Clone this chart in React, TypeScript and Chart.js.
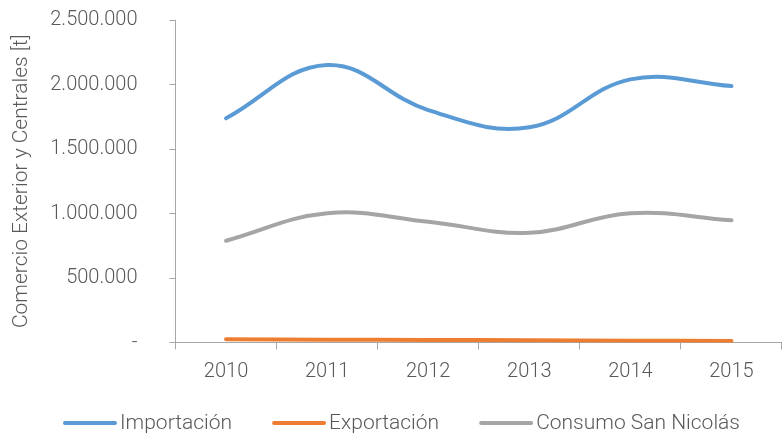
import React, { useEffect, useRef } from "react";
import { Chart, registerables } from "chart.js";

Chart.register(...registerables);

const years = ["2010", "2011", "2012", "2013", "2014", "2015"];
const importacion = [1738000, 2151000, 1802000, 1668000, 2040000, 1988000];
const exportacion = [25000, 22000, 20000, 17000, 14000, 12000];
const consumo = [789000, 1002000, 936000, 851000, 1002000, 947000];
const seriesNames = ["Importación", "Exportación", "Consumo San Nicolás"];
const seriesColors = ["#5B9BD5", "#ED7D31", "#A5A5A5"];

const TEXT = "#595959";
const AXIS = "#a6a6a6";
const FONT = "Roboto";
const FS = 20;
const LEGEND_FS = 21;

function fmt(v: number): string {
  if (v === 0) return "-";
  return String(Math.round(v)).replace(/\B(?=(\d{3})+(?!\d))/g, ".");
}

const legendPlugin = {
  id: "customLegend",
  afterDraw(chart: any) {
    const ctx = chart.ctx;
    ctx.save();
    ctx.font = `300 ${LEGEND_FS}px ${FONT}`;
    ctx.textBaseline = "middle";
    const lineW = 54;
    const gap = 3;
    const spacing = 40;
    const items = chart.data.datasets.map((d: any) => ({
      label: d.label,
      color: d.borderColor,
      w: ctx.measureText(d.label).width,
    }));
    const total =
      items.reduce((s: number, it: any) => s + lineW + gap + it.w, 0) + spacing * (items.length - 1);
    let x = 401.5 - total / 2;
    const y = 423;
    for (const it of items) {
      ctx.strokeStyle = it.color;
      ctx.lineWidth = 4;
      ctx.lineCap = "round";
      ctx.beginPath();
      ctx.moveTo(x + 2, y);
      ctx.lineTo(x + lineW - 2, y);
      ctx.stroke();
      ctx.fillStyle = TEXT;
      ctx.fillText(it.label, x + lineW + gap, y + 1);
      x += lineW + gap + it.w + spacing;
    }
    ctx.restore();
  },
};

export default function App() {
  const ref = useRef<HTMLCanvasElement | null>(null);
  useEffect(() => {
    if (!ref.current) return;
    const values = [importacion, exportacion, consumo];
    const chart = new Chart(ref.current, {
      type: "line",
      data: {
        labels: years,
        datasets: values.map((data, i) => ({
          label: seriesNames[i],
          data,
          borderColor: seriesColors[i],
          backgroundColor: seriesColors[i],
          borderWidth: 4,
          pointRadius: 0,
          tension: 0.4,
          borderCapStyle: "round" as const,
        })),
      },
      options: {
        animation: false,
        responsive: false,
        maintainAspectRatio: false,
        layout: { autoPadding: false, padding: { top: 20, right: -10, left: 0, bottom: 40.5 } },
        plugins: {
          tooltip: { enabled: false },
          legend: { display: false },
        },
        scales: {
          x: {
            offset: true,
            grid: {
              offset: true,
              drawOnChartArea: false,
              drawTicks: true,
              tickLength: 7,
              color: AXIS,
            },
            border: { color: AXIS, width: 1 },
            ticks: { color: TEXT, font: { family: FONT, size: FS, weight: 300 }, padding: 10 },
          },
          y: {
            min: 0,
            max: 2500000,
            afterFit: (s: any) => {
              s.width = 175.5;
              s.paddingTop = 0;
              s.paddingBottom = 0;
            },
            grid: { drawOnChartArea: false, tickLength: 6, color: AXIS },
            border: { color: AXIS, width: 1 },
            ticks: {
              stepSize: 500000,
              color: TEXT,
              padding: 32,
              font: { family: FONT, size: FS, weight: 300 },
              callback: (v: any) => fmt(Number(v)),
            },
            title: {
              display: true,
              text: "Comercio Exterior y Centrales [t]",
              color: TEXT,
              font: { family: FONT, size: 21, weight: 300 },
              padding: { top: 9, bottom: 0 },
            },
          },
        },
      },
      plugins: [legendPlugin],
    });
    return () => chart.destroy();
  }, []);
  return (
    <div style={{ position: "absolute", left: 0, top: 0, width: 782, height: 434, background: "#fff" }}>
      <canvas ref={ref} width={782} height={434} style={{ width: 782, height: 434 }} />
    </div>
  );
}
